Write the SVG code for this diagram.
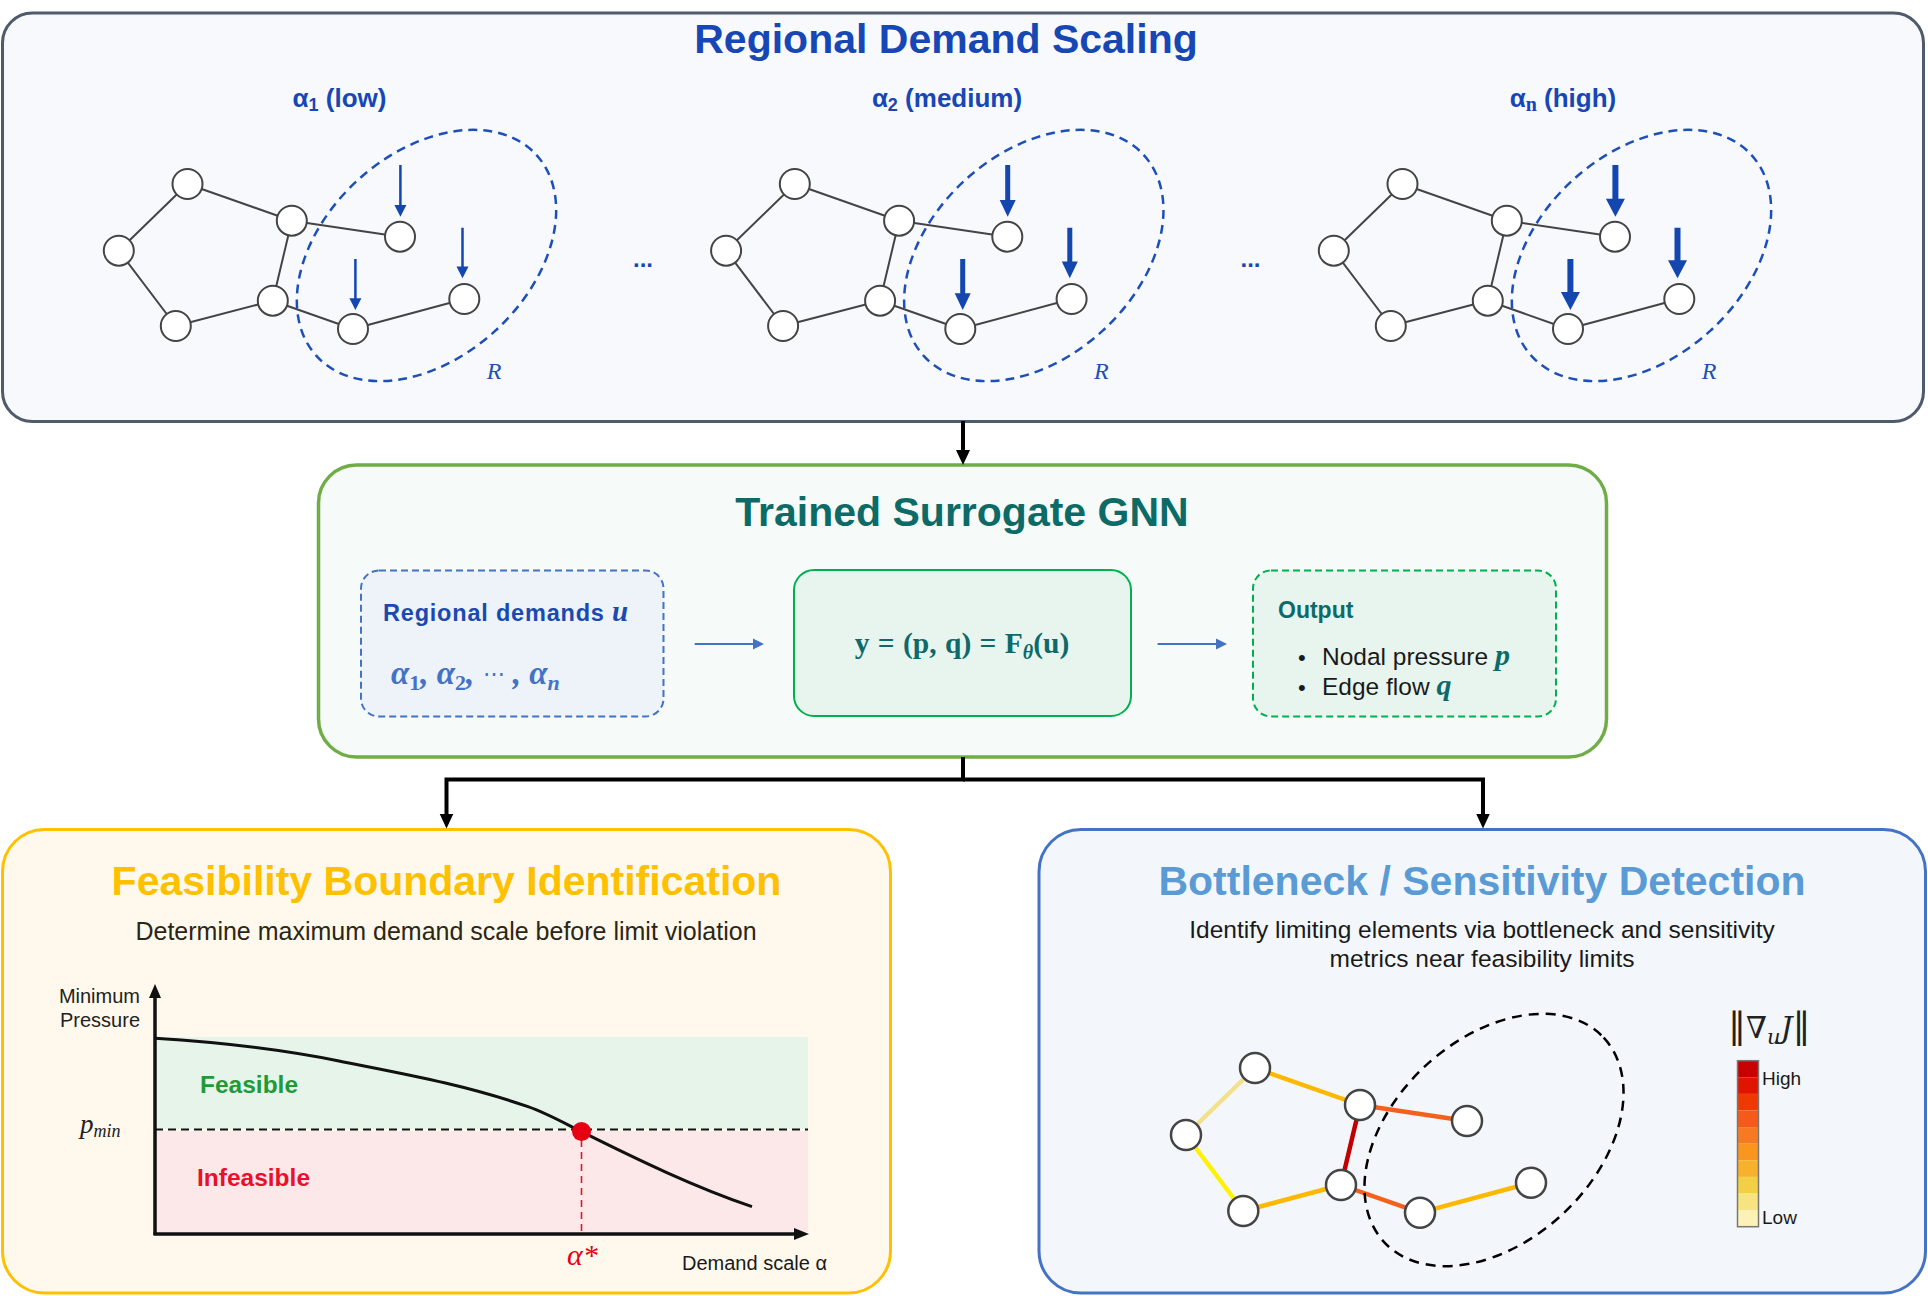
<svg xmlns="http://www.w3.org/2000/svg" width="1928" height="1296" viewBox="0 0 1928 1296">
<defs>
<style>
.sans{font-family:"Liberation Sans",Arial,sans-serif}
.serif{font-family:"Liberation Serif","DejaVu Serif",serif}
.title{font-family:"Liberation Sans",Arial,sans-serif;font-weight:bold;font-size:41px;text-anchor:middle}
.gnode{fill:#fff;stroke:#444;stroke-width:2}
.gedge{stroke:#444;stroke-width:2;fill:none}
.reg{fill:none;stroke:#1D4FB8;stroke-width:2.5;stroke-dasharray:9 6}
.dem{fill:#1446B0}
.lbl{font-family:"Liberation Sans",Arial,sans-serif;font-weight:bold;font-size:26px;fill:#1747B5;text-anchor:middle}
.rlab{font-family:"Liberation Serif",serif;font-style:italic;font-size:24px;fill:#1D4FB8}
.conn{fill:none;stroke:#000;stroke-width:4}
.bnode{fill:#fff;stroke:#444;stroke-width:2.5}
.bedge{stroke-width:4.5;stroke-linecap:round;fill:none}
</style>
<marker id="ahBlk" markerUnits="userSpaceOnUse" markerWidth="16" markerHeight="16" viewBox="0 0 16 16" refX="4" refY="8" orient="auto">
<path d="M0,1 L15,8 L0,15 Z" fill="#000"/>
</marker>
<marker id="ahBlu" markerUnits="userSpaceOnUse" markerWidth="12" markerHeight="12" viewBox="0 0 12 12" refX="2" refY="6" orient="auto">
<path d="M0,0.5 L11,6 L0,11.5 Z" fill="#4472C4"/>
</marker>
<g id="graphEdges">
<path class="gedge" d="M187.5,184 L118.8,250.7 M187.5,184 L291.8,220.7 M291.8,220.7 L400,236.7 M291.8,220.7 L272.8,300.7 M118.8,250.7 L175.8,326 M175.8,326 L272.8,300.7 M272.8,300.7 L353,329 M353,329 L464.3,299"/>
</g>
<g id="graphNodes">
<circle class="gnode" cx="187.5" cy="184" r="15"/>
<circle class="gnode" cx="291.8" cy="220.7" r="15"/>
<circle class="gnode" cx="118.8" cy="250.7" r="15"/>
<circle class="gnode" cx="400" cy="236.7" r="15"/>
<circle class="gnode" cx="272.8" cy="300.7" r="15"/>
<circle class="gnode" cx="175.8" cy="326" r="15"/>
<circle class="gnode" cx="353" cy="329" r="15"/>
<circle class="gnode" cx="464.3" cy="299" r="15"/>
</g>
<ellipse id="region" class="reg" cx="426.5" cy="255.5" rx="149" ry="102" transform="rotate(-42.5 426.5 255.5)"/>
</defs>

<!-- Top panel -->
<g id="regional-demand-scaling">
<rect x="2.5" y="13" width="1921" height="408.5" rx="30" fill="#F7F9FC" stroke="#4F5A6B" stroke-width="3"/>
<text class="title" x="946" y="53" fill="#1747B5">Regional Demand Scaling</text>

<g id="scenario-low">
<text class="lbl" x="339.5" y="107">α<tspan font-size="18" dy="4">1</tspan><tspan dy="-4"> (low)</tspan></text>
<use href="#graphEdges"/>
<use href="#region"/>
<use href="#graphNodes"/>
<path class="dem" d="M399.15,165 h2.5 V205 h4.75 L400.4,216.7 L394.4,205 h4.75 Z"/>
<path class="dem" d="M354.15,259 h2.5 V298.3 h4.75 L355.4,310 L349.4,298.3 h4.75 Z"/>
<path class="dem" d="M461.25,227.7 h2.5 V266.6 h4.75 L462.5,278.3 L456.5,266.6 h4.75 Z"/>
</g>
<text x="643" y="267" font-family="Liberation Sans,Arial,sans-serif" font-weight="bold" font-size="24" fill="#1747B5" text-anchor="middle">...</text>

<g id="scenario-medium" transform="translate(607.3,0)">
<text class="lbl" x="339.7" y="107">α<tspan font-size="18" dy="4">2</tspan><tspan dy="-4"> (medium)</tspan></text>
<use href="#graphEdges"/>
<use href="#region"/>
<use href="#graphNodes"/>
<path class="dem" d="M397.9,165 h5 V200 h5.5 L400.4,216.7 L392.4,200 h5.5 Z"/>
<path class="dem" d="M352.9,259 h5 V293.3 h5.5 L355.4,310 L347.4,293.3 h5.5 Z"/>
<path class="dem" d="M460,227.7 h5 V261.6 h5.5 L462.5,278.3 L454.5,261.6 h5.5 Z"/>
</g>
<text x="1250.5" y="267" font-family="Liberation Sans,Arial,sans-serif" font-weight="bold" font-size="24" fill="#1747B5" text-anchor="middle">...</text>

<g id="scenario-high" transform="translate(1215,0)">
<text class="lbl" x="348" y="107">α<tspan font-family="Liberation Serif,serif" font-size="20" dy="4">n</tspan><tspan dy="-4"> (high)</tspan></text>
<use href="#graphEdges"/>
<use href="#region"/>
<use href="#graphNodes"/>
<path class="dem" d="M397.4,165 h6 V198.7 h6.5 L400.4,216.7 L390.9,198.7 h6.5 Z"/>
<path class="dem" d="M352.4,259 h6 V292 h6.5 L355.4,310 L345.9,292 h6.5 Z"/>
<path class="dem" d="M459.5,227.7 h6 V260.3 h6.5 L462.5,278.3 L453,260.3 h6.5 Z"/>
</g>
<text class="rlab" x="486.7" y="379">R</text>
<text class="rlab" x="1094" y="379">R</text>
<text class="rlab" x="1701.8" y="379">R</text>
</g>

<!-- GNN panel -->
<g id="trained-surrogate-gnn">
<rect x="318.5" y="465" width="1288" height="292" rx="38" fill="#F6FAF8" stroke="#70AD47" stroke-width="3.5"/>
<text class="title" x="962" y="526" fill="#0D6B67">Trained Surrogate GNN</text>
</g>

<g id="regional-demands-box">
<rect x="361" y="570.5" width="302.5" height="146" rx="18" fill="#EDF3F9" stroke="#4472C4" stroke-width="2" stroke-dasharray="7 4"/>
<text x="383" y="621" class="sans" font-weight="bold" font-size="23.5" letter-spacing="0.8" fill="#1A4AB0">Regional demands <tspan font-family="Liberation Serif,serif" font-style="italic" font-size="29">u</tspan></text>
<text x="391" y="684" font-family="Liberation Serif,serif" font-style="italic" font-weight="bold" font-size="33" fill="#4472C4">α<tspan font-size="22" font-style="normal" dy="6">1</tspan><tspan dy="-6">, α</tspan><tspan font-size="22" font-style="normal" dy="6">2</tspan><tspan dy="-6">, </tspan><tspan font-weight="normal" font-style="normal" font-size="22" dy="-3">⋯</tspan><tspan dy="3"> , α</tspan><tspan font-size="22" dy="6">n</tspan></text>
</g>

<g id="gnn-model-box">
<rect x="794" y="570" width="337" height="146" rx="20" fill="#E8F5EE" stroke="#00B050" stroke-width="2"/>
<text x="962" y="653" font-family="Liberation Serif,serif" font-weight="bold" font-size="29.5" fill="#0E6A6A" text-anchor="middle" word-spacing="1">y = (p, q) = F<tspan font-style="italic" font-size="20" dy="6">θ</tspan><tspan dy="-6">(u)</tspan></text>
</g>

<g id="output-box">
<rect x="1253" y="570.5" width="303" height="146" rx="18" fill="#E8F5EE" stroke="#00B050" stroke-width="2" stroke-dasharray="7 4"/>
<text x="1278" y="618" class="sans" font-weight="bold" font-size="23" fill="#0E6A6A">Output</text>
<text x="1298" y="665" class="sans" font-size="22" fill="#1a1a1a">•</text>
<text x="1322" y="665" class="sans" font-size="24.5" fill="#1a1a1a">Nodal pressure <tspan font-family="Liberation Serif,serif" font-style="italic" font-weight="bold" font-size="30" fill="#0E6A6A">p</tspan></text>
<text x="1298" y="695" class="sans" font-size="22" fill="#1a1a1a">•</text>
<text x="1322" y="695" class="sans" font-size="24.5" fill="#1a1a1a">Edge flow <tspan font-family="Liberation Serif,serif" font-style="italic" font-weight="bold" font-size="30" fill="#0E6A6A">q</tspan></text>
</g>

<!-- Feasibility panel -->
<g id="feasibility-boundary">
<rect x="2.5" y="829.5" width="888" height="463.5" rx="42" fill="#FEF9EC" stroke="#FFC000" stroke-width="3"/>
<text class="title" x="446.5" y="895" fill="#FFC000">Feasibility Boundary Identification</text>
<text x="446" y="940" class="sans" font-size="25" fill="#2B2616" text-anchor="middle">Determine maximum demand scale before limit violation</text>
<rect x="155" y="1037" width="653" height="92" fill="#E6F4EA"/>
<rect x="155" y="1131" width="653" height="101" fill="#FCE8E8"/>
<text x="200" y="1093" class="sans" font-weight="bold" font-size="24.5" fill="#1E9A36">Feasible</text>
<text x="197" y="1186" class="sans" font-weight="bold" font-size="24.5" fill="#E8102A">Infeasible</text>
<line x1="155" y1="1129.5" x2="808" y2="1129.5" stroke="#111" stroke-width="2" stroke-dasharray="8 5"/>
<line x1="581.5" y1="1140" x2="581.5" y2="1233" stroke="#E8102A" stroke-width="1.6" stroke-dasharray="7 5"/>
<path d="M155,1038.3 C216.3,1042 277.7,1048.7 339,1061 C402,1073.6 465,1084.6 528,1106.7 C545.8,1112.9 563.7,1122.8 581.5,1131.7 C638.3,1160.1 695.2,1187.4 752,1206.7" fill="none" stroke="#111" stroke-width="3"/>
<circle cx="581.5" cy="1131.5" r="9.5" fill="#E60012"/>
<path d="M155,1235 V996" stroke="#111" stroke-width="3.5" fill="none"/>
<path d="M149,998 L155,984 L161,998 Z" fill="#111"/>
<path d="M153.5,1234 H796" stroke="#111" stroke-width="3.5" fill="none"/>
<path d="M794,1228 L809,1234 L794,1240 Z" fill="#111"/>
<text x="140" y="1003" class="sans" font-size="20" fill="#222" text-anchor="end">Minimum</text>
<text x="140" y="1027" class="sans" font-size="20" fill="#222" text-anchor="end">Pressure</text>
<text x="80" y="1133" font-family="Liberation Serif,serif" font-style="italic" font-size="27" fill="#222">p<tspan font-size="18" dy="4">min</tspan></text>
<text x="567" y="1265" font-family="Liberation Serif,serif" font-style="italic" font-size="30" fill="#E60012">α*</text>
<text x="682" y="1270" class="sans" font-size="20" fill="#1a1a1a">Demand scale α</text>
</g>

<!-- Bottleneck panel -->
<g id="bottleneck-sensitivity">
<rect x="1039" y="829.5" width="886.5" height="463.5" rx="42" fill="#F3F7FC" stroke="#4472C4" stroke-width="3"/>
<text class="title" x="1482" y="895" fill="#5B9BD5">Bottleneck / Sensitivity Detection</text>
<text x="1482" y="937.5" class="sans" font-size="24.5" fill="#1a1a1a" text-anchor="middle">Identify limiting elements via bottleneck and sensitivity</text>
<text x="1482" y="967" class="sans" font-size="24.5" fill="#1a1a1a" text-anchor="middle">metrics near feasibility limits</text>
<g id="sensitivity-graph">
<line class="bedge" x1="1186" y1="1135" x2="1255" y2="1068" stroke="#F3E08A"/>
<line class="bedge" x1="1255" y1="1068" x2="1360" y2="1105" stroke="#FFB800"/>
<line class="bedge" x1="1360" y1="1105" x2="1467" y2="1121" stroke="#F4611E"/>
<line class="bedge" x1="1360" y1="1105" x2="1341" y2="1185" stroke="#C00000"/>
<line class="bedge" x1="1186" y1="1135" x2="1243.3" y2="1211" stroke="#FFF200"/>
<line class="bedge" x1="1243.3" y1="1211" x2="1341" y2="1185" stroke="#FFB800"/>
<line class="bedge" x1="1341" y1="1185" x2="1420" y2="1212.7" stroke="#F4611E"/>
<line class="bedge" x1="1420" y1="1212.7" x2="1531" y2="1182.7" stroke="#FFB800"/>
<ellipse cx="1494" cy="1140" rx="150" ry="101" transform="rotate(-43 1494 1140)" fill="none" stroke="#000" stroke-width="2.5" stroke-dasharray="10 7"/>
<circle class="bnode" cx="1255" cy="1068" r="15"/>
<circle class="bnode" cx="1360" cy="1105" r="15"/>
<circle class="bnode" cx="1467" cy="1121" r="15"/>
<circle class="bnode" cx="1186" cy="1135" r="15"/>
<circle class="bnode" cx="1341" cy="1185" r="15"/>
<circle class="bnode" cx="1243.3" cy="1211" r="15"/>
<circle class="bnode" cx="1420" cy="1212.7" r="15"/>
<circle class="bnode" cx="1531" cy="1182.7" r="15"/>
</g>
<g id="colorbar">
<text x="1728" y="1038" font-family="DejaVu Serif,serif" font-size="30" fill="#222"><tspan font-size="36">‖</tspan>∇<tspan font-style="italic" font-size="21" dy="6">u</tspan><tspan font-style="italic" dy="-6">J</tspan><tspan font-size="36">‖</tspan></text>
<rect x="1737.5" y="1060.7" width="21" height="16.6" fill="#C80000"/>
<rect x="1737.5" y="1077.3" width="21" height="16.6" fill="#E01500"/>
<rect x="1737.5" y="1093.9" width="21" height="16.6" fill="#EE3A00"/>
<rect x="1737.5" y="1110.5" width="21" height="16.6" fill="#F55A1A"/>
<rect x="1737.5" y="1127.1" width="21" height="16.6" fill="#F77A22"/>
<rect x="1737.5" y="1143.7" width="21" height="16.6" fill="#F99620"/>
<rect x="1737.5" y="1160.3" width="21" height="16.6" fill="#F8B12C"/>
<rect x="1737.5" y="1176.9" width="21" height="16.6" fill="#F2CF45"/>
<rect x="1737.5" y="1193.5" width="21" height="16.6" fill="#F7E47E"/>
<rect x="1737.5" y="1210.1" width="21" height="16.6" fill="#FCF2B8"/>
<rect x="1737.5" y="1060.7" width="21" height="166" fill="none" stroke="#777" stroke-width="1.5"/>
<text x="1762" y="1085" class="sans" font-size="19" fill="#1a1a1a">High</text>
<text x="1762" y="1224" class="sans" font-size="19" fill="#1a1a1a">Low</text>
</g>
</g>

<!-- Connectors -->
<g id="connectors">
<path class="conn" d="M963,421 V454" marker-end="url(#ahBlk)"/>
<path class="conn" d="M963,757 V779.5 H446.5 V817.5" marker-end="url(#ahBlk)"/>
<path class="conn" d="M963,779.5 H1483 V817.5" marker-end="url(#ahBlk)"/>
<path d="M694.7,644 H755" stroke="#4472C4" stroke-width="2" fill="none" marker-end="url(#ahBlu)"/>
<path d="M1157.6,644 H1218" stroke="#4472C4" stroke-width="2" fill="none" marker-end="url(#ahBlu)"/>
</g>
</svg>
